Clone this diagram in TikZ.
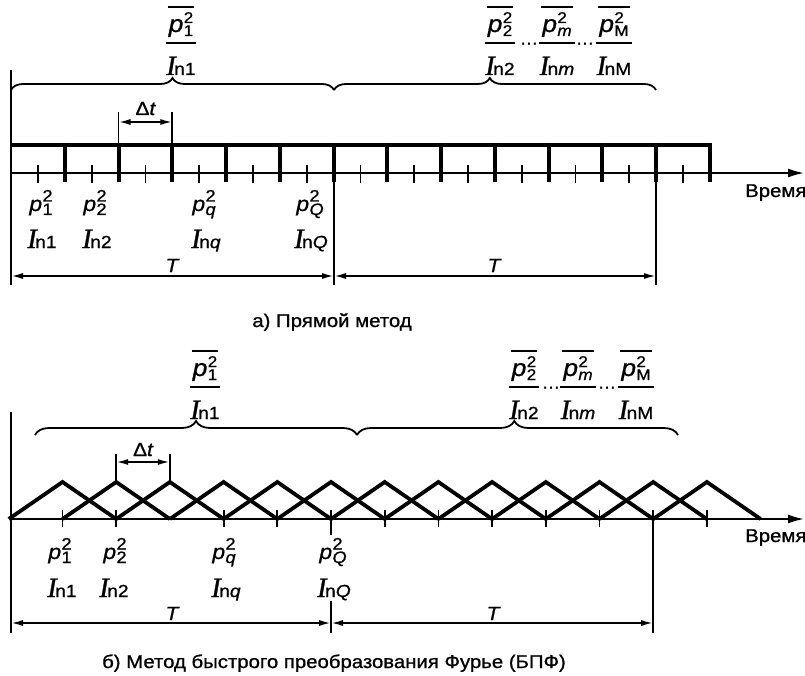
\documentclass[tikz,border=0pt]{standalone}
\usepackage{fontspec}
\setmainfont{Liberation Sans}[FakeStretch=1.1, FakeBold=0.9]
\newfontfamily\tnr{Liberation Serif}[FakeBold=1]
\usetikzlibrary{arrows.meta,decorations.pathreplacing,calc}

\newcommand{\supsubx}[4]{\rlap{\raisebox{#3}{#1}}\raisebox{-#4}{#2}}
\newcommand{\plab}[1]{{\fontsize{21}{21}\selectfont\itshape p}\kern0.3pt{\fontsize{16.5}{16.5}\selectfont\supsubx{2}{#1}{9.5pt}{4pt}}}
\newcommand{\pnum}[1]{{\fontsize{24}{24}\selectfont\itshape p}\kern0.3pt{\fontsize{15.5}{15.5}\selectfont\supsubx{2}{#1}{9pt}{4pt}}}
\newcommand{\Ilab}[1]{{\tnr\fontsize{28}{28}\selectfont\itshape I}\kern-1.5pt{\fontsize{17.5}{17.5}\selectfont n#1}}

\newcommand{\fracat}[4]{%
  \node[lbl,anchor=base,inner xsep=3pt] (#1n) at (#2,-11) {#3};
  \node[lbl,anchor=base] (#1d) at (#2,32) {#4};
  \coordinate (#1o) at (#2,-36);
  \coordinate (#1b) at (#2,0);
  \draw[olin] ($(#1n.west |- #1o)+(2,0)$) -- ($(#1n.east |- #1o)+(-2,0)$);
  \draw[olin] (#1n.west |- #1b) -- (#1n.east |- #1b);
}

\begin{document}
\begin{tikzpicture}[x=1pt,y=-1pt,
  txt/.style={inner sep=0pt, font=\fontsize{18.5}{20}\selectfont},
  lbl/.style={inner sep=0pt},
  thinl/.style={line width=1.8pt},
  heavy/.style={line width=4pt},
  tri/.style={line width=3.8pt, line join=miter},
  brc/.style={line width=1.8pt, decorate, decoration={brace, amplitude=#1}},
  brca/.style 2 args={line width=1.8pt, decorate, decoration={brace, amplitude=#1, aspect=#2}},
  dim/.style={line width=1.8pt, {Latex[length=12pt,width=6pt]}-{Latex[length=12pt,width=6pt]}},
  axisarr/.style={line width=1.8pt, -{Latex[length=16pt,width=9pt]}},
  olin/.style={line width=1.8pt},
  lett/.style={inner sep=0pt, font=\fontsize{19}{19}\selectfont\itshape},
]
\useasboundingbox (0,0) rectangle (805,676);

% ================= panel a =================
\coordinate (aL0) at (11,70);
\coordinate (aL1) at (11,285);
\draw[thinl] (aL0) -- (aL1);

% braces
\coordinate (aB0) at (11,90);
\coordinate (aB1) at (334,90);
\coordinate (aB2) at (656,90);
\draw[brc=12pt] (aB0) -- (aB1);
\draw[brca={12pt}{0.484}] (aB1) -- (aB2);

% fractions
\begin{scope}[shift={(0,43)}]
  \fracat{fa1}{181}{\pnum{1}}{\Ilab{1}}
  \fracat{fa2}{500}{\pnum{2}}{\Ilab{2}}
  \fracat{fa3}{557}{\pnum{\itshape m}}{\Ilab{\itshape m}}
  \fracat{fa4}{614}{\pnum{M}}{\Ilab{M}}
  \node[lbl,anchor=base] (da1) at (529,5) {\fontsize{16}{16}\selectfont ···};
  \node[lbl,anchor=base] (da2) at (585,5) {\fontsize{16}{16}\selectfont ···};
\end{scope}

% time cells
\draw[heavy] (11,145) -- (712,145);
\foreach \k in {1,...,13}
  \draw[heavy] ({11+53.77*\k},143) -- ({11+53.77*\k},182);
\draw[axisarr] (11,173) -- (804,173);
\foreach \k in {0,...,12}
  \draw[thinl] ({11+53.77*(\k+0.5)},165) -- ({11+53.77*(\k+0.5)},183);
\node[txt,anchor=base west] (vrA) at (745,197) {Время};

% delta t
\coordinate (adt0) at (118.5,112);
\coordinate (adt1) at (172.3,112);
\draw[thinl] (adt0) -- (118.5,145);
\draw[thinl] (adt1) -- (172.3,145);
\draw[dim] (118.5,122) -- (172.3,122);
\node[lbl,anchor=base] (dtA) at (145.4,115) {\fontsize{19}{19}\selectfont Δ\itshape t};

% labels
\node[lbl,anchor=base] (pa1) at (41,211) {\plab{1}};
\node[lbl,anchor=base] (pa2) at (95,211) {\plab{2}};
\node[lbl,anchor=base] (pa3) at (204,211) {\plab{\itshape q}};
\node[lbl,anchor=base] (pa4) at (310,211) {\plab{\itshape Q}};
\node[lbl,anchor=base] (ia1) at (42,248) {\Ilab{1}};
\node[lbl,anchor=base] (ia2) at (97,248) {\Ilab{2}};
\node[lbl,anchor=base] (ia3) at (206,248) {\Ilab{\itshape q}};
\node[lbl,anchor=base] (ia4) at (311,248) {\Ilab{\itshape Q}};

% T dimensions
\coordinate (aT0) at (11,276);
\coordinate (aT1) at (334,276);
\coordinate (aT2) at (656,276);
\draw[thinl] (334,173) -- (334,285);
\draw[thinl] (656,173) -- (656,285);
\draw[dim] (aT0) -- (aT1);
\draw[dim] (aT1) -- (aT2);
\node[lett,anchor=base] (Ta1) at (172,272) {T};
\node[lett,anchor=base] (Ta2) at (494,272) {T};

\node[txt,anchor=base] (capA) at (332,327) {а) Прямой метод};

% ================= panel b =================
\draw[thinl] (11,412) -- (11,633);

\coordinate (bB0) at (35,435);
\coordinate (bB1) at (357,435);
\coordinate (bB2) at (678,435);
\draw[brc=14pt] (bB0) -- (bB1);
\draw[brca={14pt}{0.49}] (bB1) -- (bB2);

\begin{scope}[shift={(0,387)}]
  \fracat{fb1}{205}{\pnum{1}}{\Ilab{1}}
  \fracat{fb2}{524}{\pnum{2}}{\Ilab{2}}
  \fracat{fb3}{578}{\pnum{\itshape m}}{\Ilab{\itshape m}}
  \fracat{fb4}{636}{\pnum{M}}{\Ilab{M}}
  \node[lbl,anchor=base] (db1) at (551,5) {\fontsize{16}{16}\selectfont ···};
  \node[lbl,anchor=base] (db2) at (607,5) {\fontsize{16}{16}\selectfont ···};
\end{scope}

% triangles
\foreach \k in {0,...,12}
  \draw[tri] ({8.8+53.7*\k},519) -- ({62.5+53.7*\k},482) -- ({116.2+53.7*\k},519);
\draw[axisarr] (11,519) -- (804,519);
\foreach \k in {0,1,3,4,6,7,8,9,10,12}
  \draw[thinl] ({62.5+53.7*\k},510) -- ({62.5+53.7*\k},527);
\node[txt,anchor=base west] (vrB) at (745,542) {Время};

% delta t
\draw[thinl] (116.2,454) -- (116.2,482);
\draw[thinl] (169.9,454) -- (169.9,482);
\draw[dim] (116.2,462) -- (169.9,462);
\node[lbl,anchor=base] (dtB) at (143,456) {\fontsize{19}{19}\selectfont Δ\itshape t};

% labels
\node[lbl,anchor=base] (pb1) at (60,559) {\plab{1}};
\node[lbl,anchor=base] (pb2) at (115,559) {\plab{2}};
\node[lbl,anchor=base] (pb3) at (224,559) {\plab{\itshape q}};
\node[lbl,anchor=base] (pb4) at (333,559) {\plab{\itshape Q}};
\node[lbl,anchor=base] (ib1) at (62,597) {\Ilab{1}};
\node[lbl,anchor=base] (ib2) at (114,597) {\Ilab{2}};
\node[lbl,anchor=base] (ib3) at (226,597) {\Ilab{\itshape q}};
\node[lbl,anchor=base] (ib4) at (334,597) {\Ilab{\itshape Q}};

% T dimensions
\draw[thinl] (331,510) -- (331,535);
\draw[thinl] (331,601) -- (331,633);
\draw[thinl] (653.2,510) -- (653.2,633);
\coordinate (bT0) at (11,623);
\coordinate (bT1) at (331,623);
\coordinate (bT2) at (653.2,623);
\draw[dim] (bT0) -- (bT1);
\draw[dim] (bT1) -- (bT2);
\node[lett,anchor=base] (Tb1) at (172,620) {T};
\node[lett,anchor=base] (Tb2) at (493,620) {T};

\node[txt,anchor=base] (capB) at (334,668) {б) Метод быстрого преобразования Фурье (БПФ)};
\end{tikzpicture}
\end{document}
